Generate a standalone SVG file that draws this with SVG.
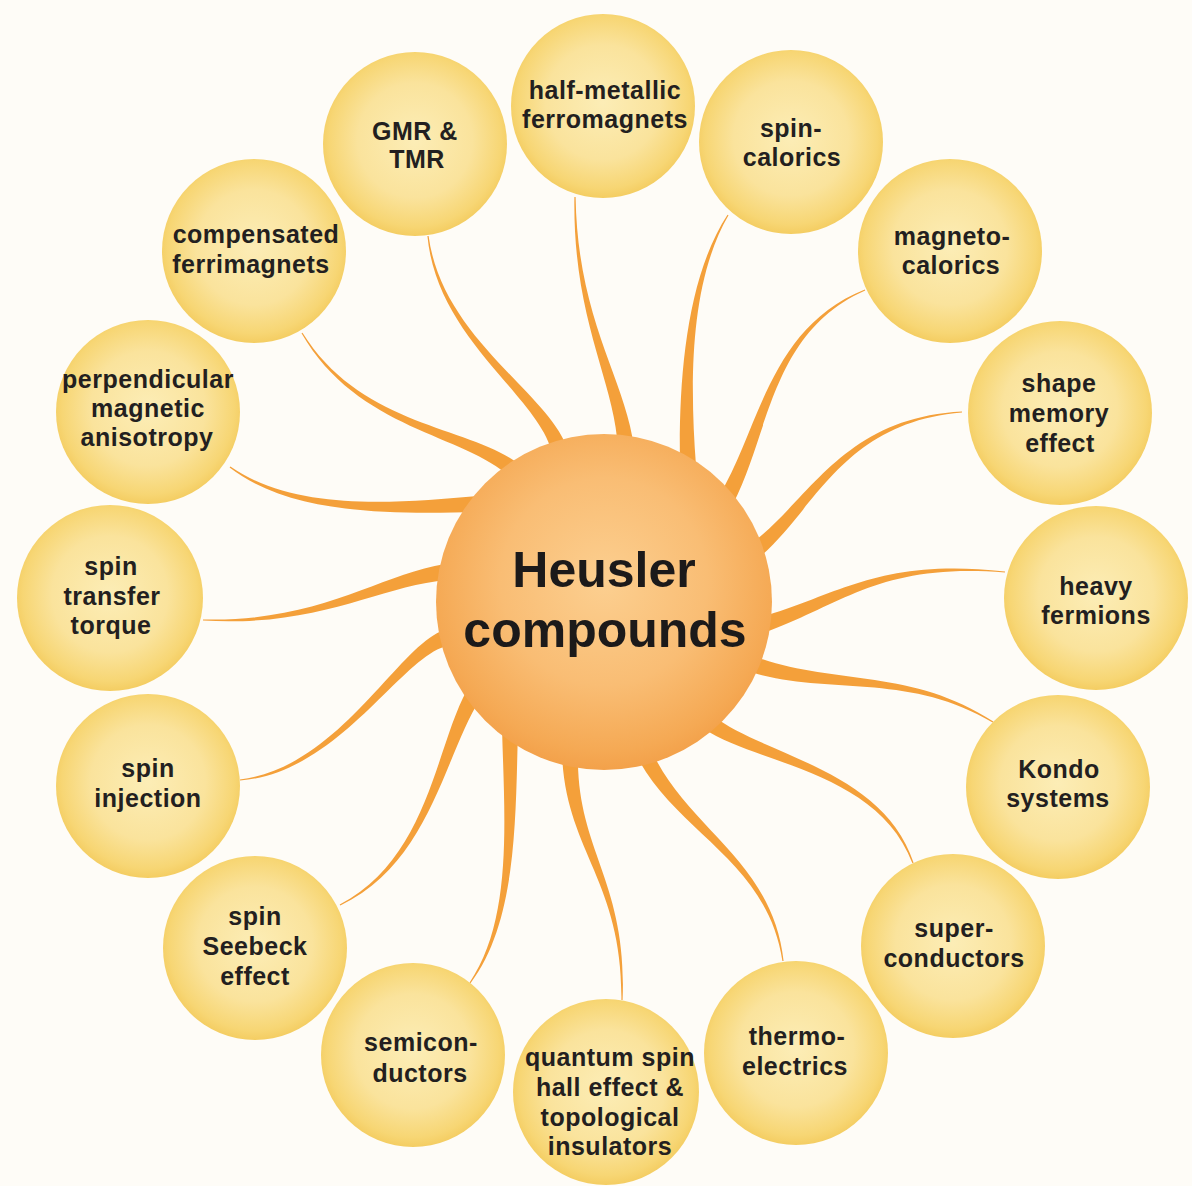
<svg xmlns="http://www.w3.org/2000/svg" width="1192" height="1186" viewBox="0 0 1192 1186">
<style>
  .bg { fill: #fefcf7; }
  .leaf { fill: url(#leafFill); }
  .hub { fill: url(#hubFill); }
  .branch { fill: #f4a03a; stroke: none; }
  .lbl { font-family: "Liberation Sans", Arial, Helvetica, sans-serif; font-weight: bold; font-size: 25px; fill: #231f20; text-anchor: middle; letter-spacing: 0.5px; }
  .hubtxt { font-family: "Liberation Sans", Arial, Helvetica, sans-serif; font-weight: bold; font-size: 50px; fill: #1c1a1a; text-anchor: middle; }
</style>
<defs>
  <radialGradient id="leafFill" cx="50%" cy="48%" r="52%">
    <stop offset="0" stop-color="#fcedb6"/>
    <stop offset="0.6" stop-color="#fae39c"/>
    <stop offset="0.9" stop-color="#f7d674"/>
    <stop offset="1" stop-color="#f4cd62"/>
  </radialGradient>
  <radialGradient id="hubFill" cx="50%" cy="44%" r="56%">
    <stop offset="0" stop-color="#fccf90"/>
    <stop offset="0.55" stop-color="#f9bd74"/>
    <stop offset="0.9" stop-color="#f5a954"/>
    <stop offset="1" stop-color="#f3a14a"/>
  </radialGradient>
</defs>

<rect class="bg" x="0" y="0" width="1192" height="1186"/>

<!-- tapered branches: wide where they leave the hub, hair-thin at each leaf -->
<g id="connectors">
  <path class="branch" d="M 634.0 447.3 C 625.5 379.5, 577.5 320, 575.6 197 L 574.4 197 C 572.5 320, 614.5 380.5, 618.0 448.7 Z"/>
  <path class="branch" d="M 696.0 465.6 C 689.5 379.7, 690.1 281.3, 728.5 215.3 L 727.5 214.7 C 685.9 278.7, 678.5 380.3, 680.0 466.4 Z"/>
  <path class="branch" d="M 733.0 503.9 C 769.8 432.7, 771.0 332.3, 865.2 290.6 L 864.8 289.4 C 769.0 327.7, 760.2 427.3, 719.0 496.1 Z"/>
  <path class="branch" d="M 756.8 559.4 C 813.3 514.4, 840.2 422.5, 962.0 412.6 L 962.0 411.4 C 839.8 417.5, 806.7 505.6, 747.2 546.6 Z"/>
  <path class="branch" d="M 764.4 632.6 C 841.7 605.2, 879.8 562.5, 1004.9 572.6 L 1005.1 571.4 C 880.2 557.5, 838.3 594.8, 759.6 617.4 Z"/>
  <path class="branch" d="M 752.5 672.6 C 828.3 695.2, 908.7 672.1, 992.7 722.5 L 993.3 721.5 C 911.3 667.9, 831.7 684.8, 757.5 657.4 Z"/>
  <path class="branch" d="M 703.3 728.5 C 756.8 764.4, 877.6 770.8, 912.4 863.2 L 913.6 862.8 C 882.4 769.2, 763.2 755.6, 712.7 715.5 Z"/>
  <path class="branch" d="M 636.3 755.3 C 675.0 832.3, 767.5 860.3, 782.4 961.1 L 783.6 960.9 C 772.5 859.7, 685.0 827.7, 650.7 748.5 Z"/>
  <path class="branch" d="M 562 752 C 564.5 850, 622.5 879.9, 621.4 1000 L 622.6 1000 C 627.5 880.1, 575.5 850, 578 752 Z"/>
  <path class="branch" d="M 502 728 C 504.5 820, 513.0 918.5, 469.5 982.7 L 470.5 983.3 C 517.0 921.5, 515.5 820, 518 728 Z"/>
  <path class="branch" d="M 467.2 689.8 C 435.3 747.1, 428.9 857.8, 339.7 904.5 L 340.3 905.5 C 431.1 862.2, 444.7 752.9, 480.8 698.2 Z"/>
  <path class="branch" d="M 444.0 630.3 C 398.6 644.7, 339.8 767.5, 239.9 779.4 L 240.1 780.6 C 340.2 772.5, 401.4 655.3, 448.0 645.7 Z"/>
  <path class="branch" d="M 445.0 564.1 C 379.3 574.5, 320.1 622.5, 203.0 619.4 L 203.0 620.6 C 319.9 627.5, 380.7 585.5, 447.0 579.9 Z"/>
  <path class="branch" d="M 477.6 496.0 C 399.7 502.5, 296.5 513.0, 230.4 466.5 L 229.6 467.5 C 293.5 517.0, 400.3 513.5, 478.4 512.0 Z"/>
  <path class="branch" d="M 521.4 466.1 C 473.7 425.9, 362.1 428.7, 302.5 332.7 L 301.5 333.3 C 357.9 431.3, 466.3 434.1, 510.6 477.9 Z"/>
  <path class="branch" d="M 567.7 450.0 C 550.3 393.6, 442.5 339.7, 428.6 235.9 L 427.4 236.1 C 437.5 340.3, 539.7 396.4, 552.3 454.0 Z"/>
</g>

<g id="node-half-metallic">
  <circle class="leaf" cx="603" cy="106" r="92"/>
  <text class="lbl"><tspan x="605" y="99">half-metallic</tspan><tspan x="605" y="128">ferromagnets</tspan></text>
</g>
<g id="node-spin-calorics">
  <circle class="leaf" cx="791" cy="142" r="92"/>
  <text class="lbl"><tspan x="791" y="137">spin-</tspan><tspan x="792" y="166">calorics</tspan></text>
</g>
<g id="node-magneto-calorics">
  <circle class="leaf" cx="950" cy="251" r="92"/>
  <text class="lbl"><tspan x="952" y="245">magneto-</tspan><tspan x="951" y="274">calorics</tspan></text>
</g>
<g id="node-shape-memory">
  <circle class="leaf" cx="1060" cy="413" r="92"/>
  <text class="lbl"><tspan x="1059" y="392">shape</tspan><tspan x="1059" y="422">memory</tspan><tspan x="1060" y="452">effect</tspan></text>
</g>
<g id="node-heavy-fermions">
  <circle class="leaf" cx="1096" cy="598" r="92"/>
  <text class="lbl"><tspan x="1096" y="595">heavy</tspan><tspan x="1096" y="624">fermions</tspan></text>
</g>
<g id="node-kondo">
  <circle class="leaf" cx="1058" cy="787" r="92"/>
  <text class="lbl"><tspan x="1059" y="778">Kondo</tspan><tspan x="1058" y="807">systems</tspan></text>
</g>
<g id="node-superconductors">
  <circle class="leaf" cx="953" cy="946" r="92"/>
  <text class="lbl"><tspan x="954" y="937">super-</tspan><tspan x="954" y="967">conductors</tspan></text>
</g>
<g id="node-thermoelectrics">
  <circle class="leaf" cx="796" cy="1053" r="92"/>
  <text class="lbl"><tspan x="797" y="1045">thermo-</tspan><tspan x="795" y="1075">electrics</tspan></text>
</g>
<g id="node-quantum-spin-hall">
  <circle class="leaf" cx="606" cy="1092" r="93"/>
  <text class="lbl"><tspan x="610" y="1066">quantum spin</tspan><tspan x="610" y="1096">hall effect &amp;</tspan><tspan x="610" y="1126">topological</tspan><tspan x="610" y="1155">insulators</tspan></text>
</g>
<g id="node-semiconductors">
  <circle class="leaf" cx="413" cy="1055" r="92"/>
  <text class="lbl"><tspan x="421" y="1051">semicon-</tspan><tspan x="420" y="1082">ductors</tspan></text>
</g>
<g id="node-spin-seebeck">
  <circle class="leaf" cx="255" cy="948" r="92"/>
  <text class="lbl"><tspan x="255" y="925">spin</tspan><tspan x="255" y="955">Seebeck</tspan><tspan x="255" y="985">effect</tspan></text>
</g>
<g id="node-spin-injection">
  <circle class="leaf" cx="148" cy="786" r="92"/>
  <text class="lbl"><tspan x="148" y="777">spin</tspan><tspan x="148" y="807">injection</tspan></text>
</g>
<g id="node-spin-transfer-torque">
  <circle class="leaf" cx="110" cy="598" r="93"/>
  <text class="lbl"><tspan x="111" y="575">spin</tspan><tspan x="112" y="605">transfer</tspan><tspan x="111" y="634">torque</tspan></text>
</g>
<g id="node-perpendicular-anisotropy">
  <circle class="leaf" cx="148" cy="412" r="92"/>
  <text class="lbl"><tspan x="148" y="388">perpendicular</tspan><tspan x="148" y="417">magnetic</tspan><tspan x="147" y="446">anisotropy</tspan></text>
</g>
<g id="node-compensated-ferrimagnets">
  <circle class="leaf" cx="254" cy="251" r="92"/>
  <text class="lbl"><tspan x="256" y="243">compensated</tspan><tspan x="251" y="273">ferrimagnets</tspan></text>
</g>
<g id="node-gmr-tmr">
  <circle class="leaf" cx="415" cy="144" r="92"/>
  <text class="lbl"><tspan x="415" y="140">GMR &amp;</tspan><tspan x="417" y="168">TMR</tspan></text>
</g>

<g id="node-heusler">
  <circle class="hub" cx="604" cy="602" r="168"/>
  <text class="hubtxt"><tspan x="604" y="587">Heusler</tspan><tspan x="605" y="647">compounds</tspan></text>
</g>
</svg>
